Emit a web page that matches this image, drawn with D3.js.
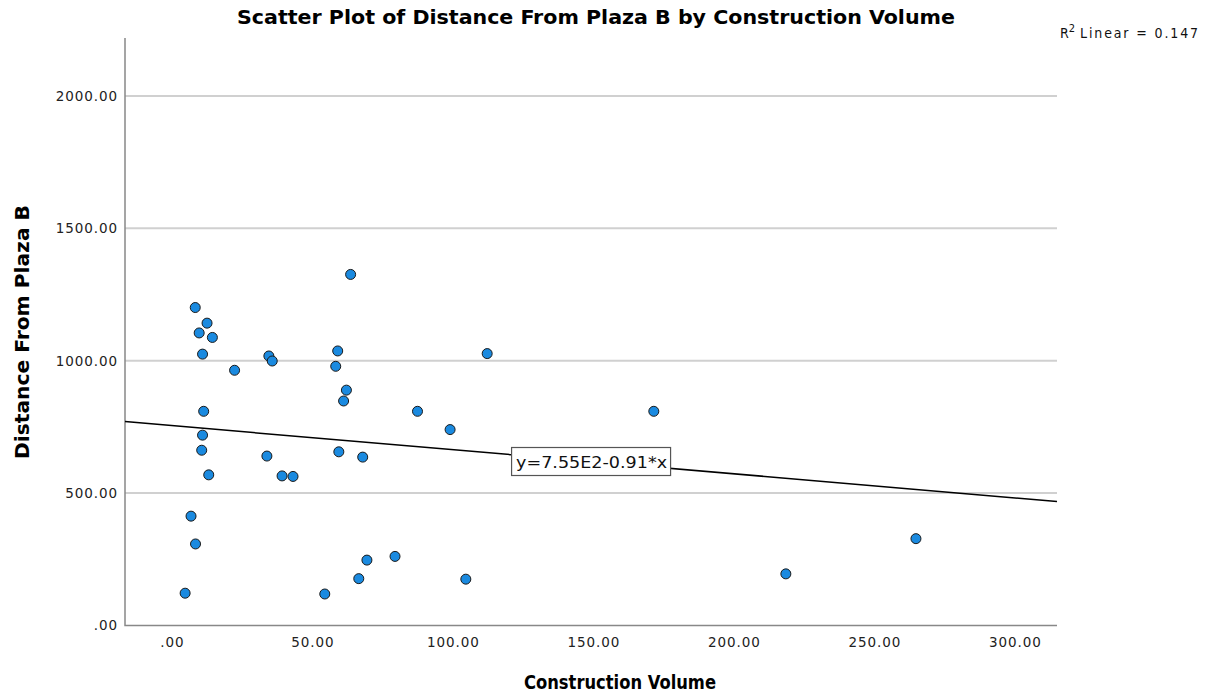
<!DOCTYPE html>
<html><head><meta charset="utf-8">
<script src="https://cdn.jsdelivr.net/npm/d3@7"></script>
<style>body{margin:0;background:#fff}</style>
</head><body>
<svg id="c" width="1219" height="694"></svg>
<script>
const constructionVolume = [63.6,8.3,12.5,9.7,14.4,10.9,34.5,35.7,22.3,59.0,58.3,112.2,62.1,61.1,11.3,87.4,99.0,10.9,10.6,33.8,59.4,67.9,13.1,39.2,43.1,6.8,8.4,69.4,79.4,66.5,104.6,4.7,54.4,171.5,218.5,264.8];
const distanceFromPlazaB = [1326,1201,1142,1105,1088,1025,1018,999,964,1037,979,1027,889,848,809,809,740,719,662,640,656,636,569,565,563,413,308,247,261,177,175,122,119,809,195,328];
const xTicks = [0,50,100,150,200,250,300];
const yTicks = [0,500,1000,1500,2000];
const intercept = 755, slope = -0.91;
const fitLabel = "y=7.55E2-0.91*x";
const r2Label = "Linear = 0.147";

const svg = d3.select("#c");
const L = 125, R = 1057, T = 38, B = 625.5;
const x = d3.scaleLinear().domain([-16.7, 315]).range([L, R]);
const y = d3.scaleLinear().domain([0, 2219]).range([B, T]);
const fmt = v => v === 0 ? ".00" : d3.format(".2f")(v);

// gridlines
svg.append("g").selectAll("line").data(yTicks.filter(d=>d>0)).join("line")
  .attr("x1", L).attr("x2", R).attr("y1", d=>y(d)).attr("y2", d=>y(d))
  .attr("stroke", "#d0d0d0").attr("stroke-width", 2);

// axes
const gx = svg.append("g").attr("transform", `translate(0,${B})`)
  .call(d3.axisBottom(x).tickValues(xTicks).tickFormat(fmt).tickSize(0).tickPadding(12));
const gy = svg.append("g").attr("transform", `translate(${L},0)`)
  .call(d3.axisLeft(y).tickValues(yTicks).tickFormat(fmt).tickSize(0).tickPadding(7));
[gx, gy].forEach(g => {
  g.select(".domain").remove();
  g.selectAll("text").attr("font-family", "DejaVu Sans").attr("font-size", 13.5)
    .attr("letter-spacing", "0.9px").attr("fill", "#222");
});
svg.append("path").attr("d", `M${L},${T}V${B}H${R}`).attr("fill", "none")
  .attr("stroke", "#888").attr("stroke-width", 1.5);

// regression line
const clipX = [x.domain()[0], x.domain()[1]];
svg.append("line")
  .attr("x1", x(clipX[0])).attr("y1", y(intercept + slope*clipX[0]))
  .attr("x2", x(clipX[1])).attr("y2", y(intercept + slope*clipX[1]))
  .attr("stroke", "#000").attr("stroke-width", 1.5);

// points
svg.append("g").selectAll("circle").data(constructionVolume.map((v,i)=>[v, distanceFromPlazaB[i]])).join("circle")
  .attr("cx", d=>x(d[0])).attr("cy", d=>y(d[1])).attr("r", 5)
  .attr("fill", "#1a8ae0").attr("stroke", "#1a1a1a").attr("stroke-width", 1);

// fit label box
const lbx = 149, lby = intercept + slope*lbx;
const lb = svg.append("g").attr("transform", `translate(${x(lbx)},${y(lby)})`);
lb.append("rect").attr("x", -79).attr("y", -14).attr("width", 159).attr("height", 28)
  .attr("fill", "#fff").attr("stroke", "#555").attr("stroke-width", 1.2);
lb.append("text").attr("x", 1).attr("y", 6).attr("text-anchor", "middle")
  .attr("font-family", "DejaVu Sans Condensed, DejaVu Sans").attr("font-size", 15)
  .attr("textLength", 151).attr("lengthAdjust", "spacingAndGlyphs").attr("fill", "#111").text(fitLabel);

// titles
svg.append("text").attr("x", 596).attr("y", 24).attr("text-anchor", "middle")
  .attr("font-family", "DejaVu Sans Condensed, DejaVu Sans").attr("font-weight", "bold").attr("font-size", 19)
  .attr("textLength", 718).attr("lengthAdjust", "spacingAndGlyphs").attr("fill", "#000")
  .text("Scatter Plot of Distance From Plaza B by Construction Volume");
svg.append("text").attr("x", 620).attr("y", 689).attr("text-anchor", "middle")
  .attr("font-family", "DejaVu Sans Condensed, DejaVu Sans").attr("font-weight", "bold").attr("font-size", 20)
  .attr("textLength", 192).attr("lengthAdjust", "spacingAndGlyphs").attr("fill", "#000")
  .text("Construction Volume");
svg.append("text").attr("transform", "translate(29,332) rotate(-90)").attr("text-anchor", "middle")
  .attr("font-family", "DejaVu Sans Condensed, DejaVu Sans").attr("font-weight", "bold").attr("font-size", 19)
  .attr("textLength", 254).attr("lengthAdjust", "spacingAndGlyphs").attr("fill", "#000")
  .text("Distance From Plaza B");

// R2 label
const r2 = svg.append("text").attr("x", 1060).attr("y", 38)
  .attr("font-family", "DejaVu Sans Condensed, DejaVu Sans").attr("font-size", 14).attr("fill", "#111");
r2.append("tspan").text("R");
r2.append("tspan").attr("dy", -6).attr("font-size", 11).text("2");
r2.append("tspan").attr("dy", 6).attr("dx", 5).attr("textLength", 118).attr("lengthAdjust", "spacing").text(r2Label);
</script>
</body></html>
